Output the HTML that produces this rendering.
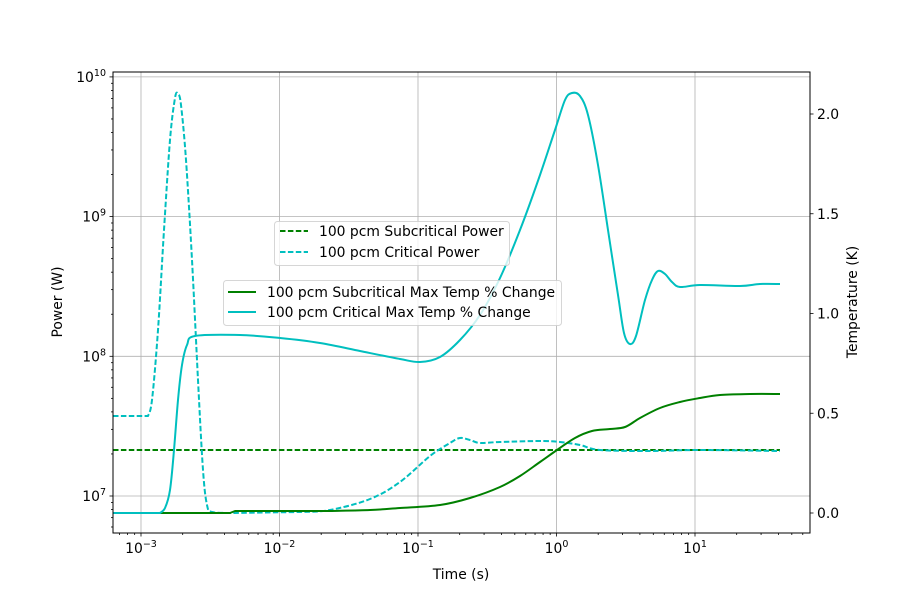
<!DOCTYPE html>
<html><head><meta charset="utf-8"><style>body{margin:0;background:#fff}svg{display:block}</style></head>
<body>
<svg id="s" width="900" height="600" xmlns="http://www.w3.org/2000/svg" font-family="DejaVu Sans, Liberation Sans, sans-serif" font-size="13.9">
<rect width="900" height="600" fill="#fff"/>
<g id="grid" stroke="#b0b0b0" stroke-width="0.8"></g>
<g id="curves" fill="none" stroke-width="2" stroke-linejoin="round"></g>
<g id="ticks" stroke="#000" stroke-width="0.8"></g>
<rect x="113" y="72" width="697" height="461" fill="none" stroke="#000" stroke-width="1"/>
<g id="labels" fill="#000"></g>
<text x="461" y="579" text-anchor="middle">Time (s)</text>
<text transform="translate(62,302) rotate(-90)" text-anchor="middle">Power (W)</text>
<text transform="translate(857,302) rotate(-90)" text-anchor="middle">Temperature (K)</text>
<g>
<rect x="274.5" y="221.5" width="235" height="44" rx="3" fill="#fff" fill-opacity="0.8" stroke="#ccc" stroke-opacity="0.8"/>
<line x1="280" y1="231" x2="308" y2="231" stroke="#008000" stroke-width="2" stroke-dasharray="5.5,2.4"/>
<line x1="280" y1="252" x2="308" y2="252" stroke="#00bfbf" stroke-width="2" stroke-dasharray="5.5,2.4"/>
<text x="319" y="236">100 pcm Subcritical Power</text>
<text x="319" y="257">100 pcm Critical Power</text>
<rect x="223.5" y="280.5" width="338" height="45" rx="3" fill="#fff" fill-opacity="0.8" stroke="#ccc" stroke-opacity="0.8"/>
<line x1="228" y1="292" x2="256" y2="292" stroke="#008000" stroke-width="2"/>
<line x1="228" y1="312" x2="256" y2="312" stroke="#00bfbf" stroke-width="2"/>
<text x="267" y="297">100 pcm Subcritical Max Temp % Change</text>
<text x="267" y="317">100 pcm Critical Max Temp % Change</text>
</g>
</svg>
<script>
var NS="http://www.w3.org/2000/svg";
function el(p,t,a,txt){var e=document.createElementNS(NS,t);for(var k in a)e.setAttribute(k,a[k]);if(txt!==undefined)e.innerHTML=txt;document.getElementById(p).appendChild(e);return e;}
function smooth(pts){var d="M"+pts[0][0]+","+pts[0][1];for(var i=0;i<pts.length-1;i++){var p0=pts[i-1]||pts[i],p1=pts[i],p2=pts[i+1],p3=pts[i+2]||p2;
 var c1=[p1[0]+(p2[0]-p0[0])/6,p1[1]+(p2[1]-p0[1])/6],c2=[p2[0]-(p3[0]-p1[0])/6,p2[1]-(p3[1]-p1[1])/6];
 d+=" C"+c1[0].toFixed(1)+","+c1[1].toFixed(1)+" "+c2[0].toFixed(1)+","+c2[1].toFixed(1)+" "+p2[0]+","+p2[1];}return d;}
function P(s){return s.trim().split(/\s+/).map(function(q){return q.split(",").map(Number);});}
el("curves","path",{stroke:"#008000","stroke-dasharray":"5.5,2.4",d:"M113,450 L780,450"});
el("curves","path",{stroke:"#00bfbf","stroke-dasharray":"5.5,2.4",d:"M113,416 L148,416 "+smooth(P("148,416 152,400 158,330 164,230 170,140 175,98 178,94 181,105 186,160 192,260 198,380 203,470 207,505 212,512 230,513")).slice(1).replace(/^[^C]*/,"")+" L300,512 "+smooth(P("300,512 330,510 370,499 400,482 430,456 450,443 460,438 470,440 480,443 500,442 540,441 560,442 580,445 600,450 650,451 700,450 780,451")).replace(/^M[^C]*/,"")});
el("curves","path",{stroke:"#008000",d:"M113,513 L230,513 L235,511 L330,511 "+smooth(P("330,511 370,510 400,508 440,505 470,498 500,487 520,476 540,462 557,450 575,438 592,431 610,429 625,427 640,418 660,408 680,402 700,398 720,395 750,394 780,394")).replace(/^M[^C]*/,"")});
el("curves","path",{stroke:"#00bfbf",d:"M113,513 L160,513 "+smooth(P("160,513 165,508 170,490 174,450 178,400 182,365 187,345 195,336 240,335 280,338 320,343 360,351 400,359 420,362 440,357 460,340 480,315 500,278 520,230 540,175 555,130 565,100 572,93 580,96 588,115 598,165 608,230 618,295 624,333 630,344 636,336 645,300 652,280 658,271 665,274 672,282 680,287 700,285 740,286 760,284 780,284")).replace(/^M[^C]*/,"")});
var L=113,R=810,T=72,B=533;
function X(e){return 141+(e+3)*138.5;}
function Y(e){return 496-(e-7)*139.7;}
for(var d=-4;d<=1;d++){for(var k=1;k<10;k++){var x=X(d+Math.log10(k));if(x<L||x>R)continue;
 if(k==1){el("grid","line",{x1:x,y1:T,x2:x,y2:B});el("ticks","line",{x1:x,y1:B,x2:x,y2:B+3.5});
  el("labels","text",{x:x,y:B+20,"text-anchor":"middle"},"10<tspan dy='-6' font-size='9.5'>"+(d<0?"\u2212"+(-d):d)+"</tspan>");}
 else el("ticks","line",{x1:x,y1:B,x2:x,y2:B+2});}}
for(var d=6;d<=10;d++){for(var k=1;k<10;k++){var y=Y(d+Math.log10(k));if(y<T||y>B)continue;
 if(k==1){el("grid","line",{x1:L,y1:y,x2:R,y2:y});el("ticks","line",{x1:L,y1:y,x2:L-3.5,y2:y});
  el("labels","text",{x:L-7,y:y+5,"text-anchor":"end"},"10<tspan dy='-6' font-size='9.5'>"+d+"</tspan>");}
 else el("ticks","line",{x1:L,y1:y,x2:L-2,y2:y});}}
var tv=["0.0","0.5","1.0","1.5","2.0"];
for(var i=0;i<5;i++){var y=513-i*99.75;el("ticks","line",{x1:R,y1:y,x2:R+3.5,y2:y});el("labels","text",{x:R+7,y:y+5},tv[i]);}
</script>
</body></html>
